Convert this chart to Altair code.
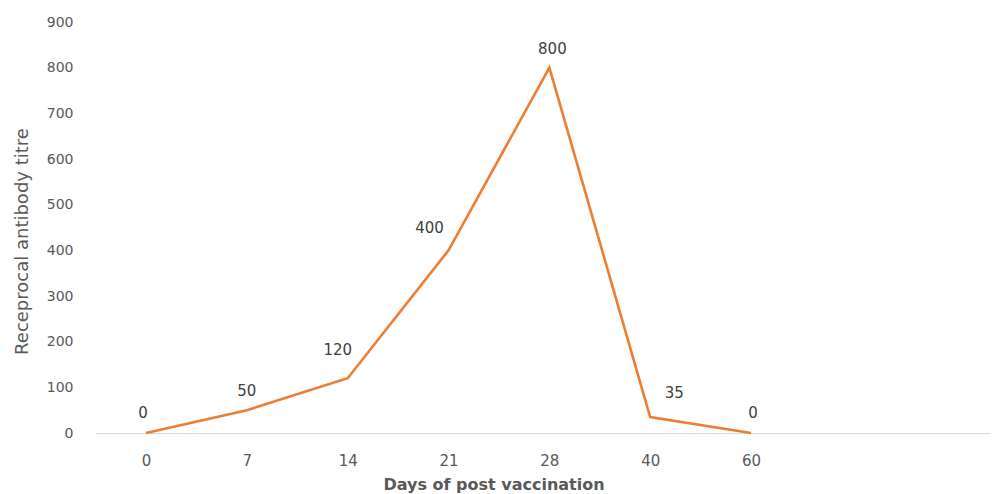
import json
import altair as alt
import pandas as pd

# ---- data ----
days = ["0", "7", "14", "21", "28", "40", "60"]
titre = [0, 50, 120, 400, 800, 35, 0]

df = pd.DataFrame({"day": days, "titre": titre, "idx": list(range(len(days)))})

# annotation nudges (label placement style, in pixels)
label_nudge = [(-3, -20), (0, -19), (-10, -28), (-19, -22), (3, -19), (24, -24), (2, -20)]

FONT = "DejaVu Sans"
label_expr = json.dumps(days) + "[datum.value]"

x_enc = alt.X(
    "idx:Q",
    scale=alt.Scale(domain=[-0.506, 8.37], nice=False, zero=False),
    axis=alt.Axis(
        values=list(range(len(days))),
        labelExpr=label_expr,
        title="Days of  post vaccination",
        titleFontWeight="bold",
        titleFontSize=16,
        titleColor="#595959",
        titleFont=FONT,
        titleX=398.5,
        titleY=56,
        titleBaseline="alphabetic",
        titleAnchor="start",
        titleAlign="center",
        labelFont=FONT,
        labelFontSize=15,
        labelColor="#595959",
        labelPadding=32,
        labelBaseline="alphabetic",
        ticks=False,
        tickSize=0,
        grid=False,
        domainColor="#d9d9d9",
        domainWidth=1,
    ),
)
y_enc = alt.Y(
    "titre:Q",
    scale=alt.Scale(domain=[0, 900], nice=False),
    axis=alt.Axis(
        values=list(range(0, 1000, 100)),
        title="Receprocal antibody titre",
        titleFont=FONT,
        titleFontSize=18,
        titleFontWeight="normal",
        titleColor="#595959",
        titleX=-73,
        titleY=219,
        titleAngle=-90,
        titleAlign="center",
        titleBaseline="middle",
        labelFont=FONT,
        labelFontSize=14,
        labelColor="#595959",
        labelPadding=22,
        ticks=False,
        tickSize=0,
        grid=False,
        domain=False,
    ),
)

line = alt.Chart(df).mark_line(color="#ED7D31", strokeWidth=2.6, strokeJoin="miter").encode(
    x=x_enc, y=y_enc
)

layers = [line]
for i, (dx, dy) in enumerate(label_nudge):
    layers.append(
        alt.Chart(df)
        .transform_filter(f"datum.idx == {i}")
        .mark_text(font=FONT, fontSize=15, color="#404040", dx=dx, dy=dy, baseline="middle", align="center")
        .encode(x="idx:Q", y="titre:Q", text="titre:Q")
    )

chart = (
    alt.layer(*layers)
    .properties(
        width=895,
        height=411,
        autosize=alt.AutoSizeParams(type="none"),
        padding={"left": 95, "top": 22, "right": 5, "bottom": 61},
        background="white",
    )
    .configure_view(stroke=None)
)

chart.save("out.html", embed_options={"renderer": "svg", "actions": False})
